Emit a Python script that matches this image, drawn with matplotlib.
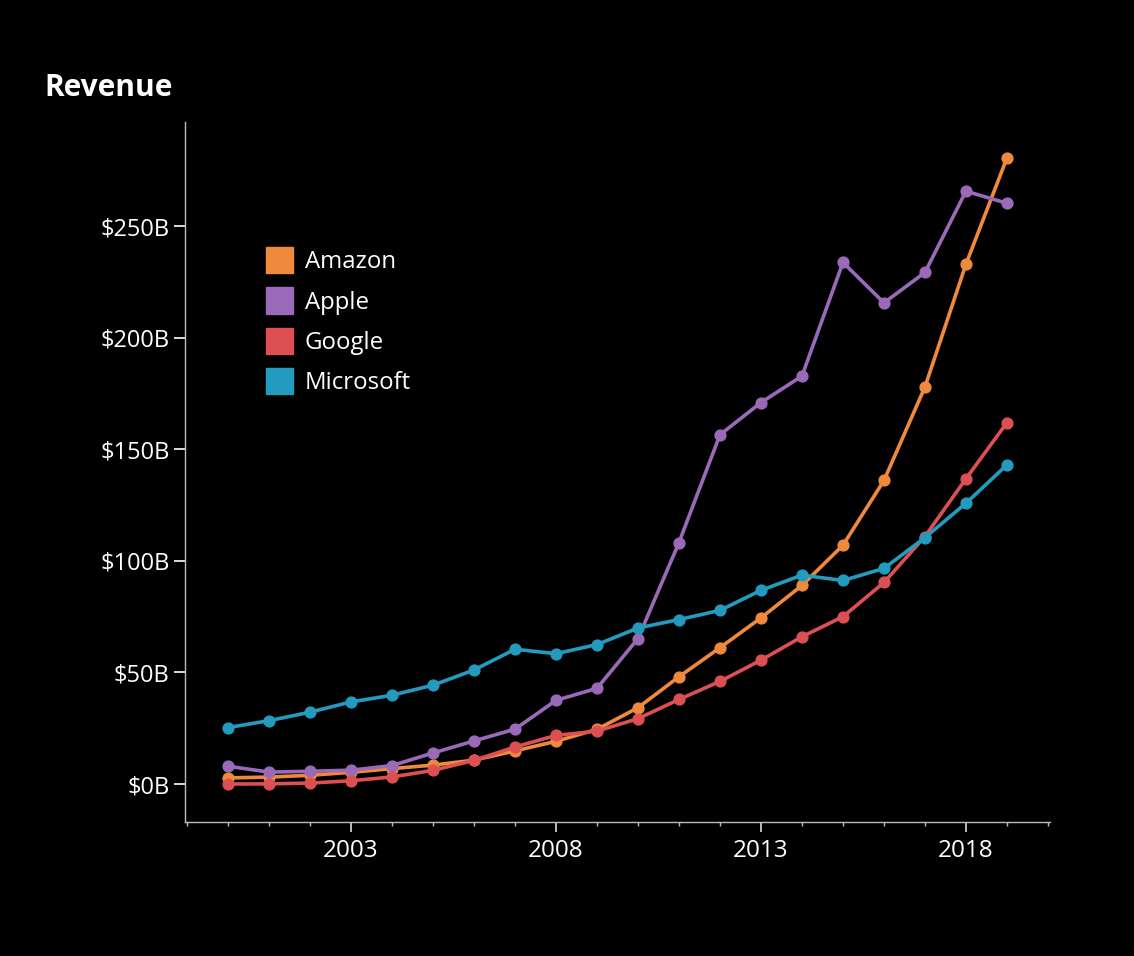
import matplotlib
matplotlib.use("Agg")
import matplotlib.pyplot as plt
from matplotlib.patches import Patch
from matplotlib.ticker import FixedLocator, FuncFormatter

# revenue in billions of dollars, one value per year
years = list(range(2000, 2020))
amazon = [2.76, 3.12, 3.93, 5.26, 6.92, 8.49, 10.71, 14.84, 19.17, 24.51,
          34.2, 48.08, 61.09, 74.45, 88.99, 107.0, 136.0, 177.9, 232.9, 280.5]
apple = [7.98, 5.36, 5.74, 6.21, 8.28, 13.93, 19.32, 24.6, 37.5, 42.9,
         65.2, 108.2, 156.5, 170.9, 182.8, 233.7, 215.6, 229.2, 265.6, 260.2]
google = [0.02, 0.09, 0.44, 1.47, 3.19, 6.14, 10.6, 16.6, 21.8, 23.7,
          29.3, 37.9, 46.0, 55.5, 66.0, 75.0, 90.3, 110.9, 136.8, 161.9]
microsoft = [25.3, 28.4, 32.2, 36.8, 39.8, 44.3, 51.1, 60.4, 58.4, 62.5,
             69.9, 73.7, 77.8, 86.8, 93.6, 91.2, 96.6, 110.4, 125.8, 143.0]

series_names = ["Amazon", "Apple", "Google", "Microsoft"]
series_values = [amazon, apple, google, microsoft]
colors = ["#ef8a3c", "#9a6ab9", "#dc5054", "#229bbe"]

y_ticks = [0, 50, 100, 150, 200, 250]
x_major = [2003, 2008, 2013, 2018]

plt.rcParams['font.family'] = ['Open Sans', 'DejaVu Sans']

fig = plt.figure(figsize=(11.34, 9.56), dpi=100, facecolor="black")
ax = fig.add_axes([185 / 1134, 1 - 822 / 956, 865 / 1134, 700 / 956])
ax.set_facecolor("black")

# later series drawn on top, like the original
for name, vals, c in zip(series_names, series_values, colors):
    ax.plot(years, vals, color=c, lw=2.6, marker="o", ms=7.8, mec=c,
            solid_capstyle="round")

ax.set_xlim(1998.95, 2020.05)
ax.set_ylim(-17, 296.6)

for s in ["top", "right"]:
    ax.spines[s].set_visible(False)
for s in ["left", "bottom"]:
    ax.spines[s].set_color("#bdbdbd")
    ax.spines[s].set_linewidth(1)

ax.yaxis.set_major_locator(FixedLocator(y_ticks))
ax.yaxis.set_major_formatter(FuncFormatter(lambda v, p: "$%dB" % v))
ax.tick_params(axis="y", colors="white", length=8, width=1.2, pad=3,
               labelsize=17, labelcolor="white")

ax.xaxis.set_major_locator(FixedLocator(x_major))
ax.xaxis.set_minor_locator(FixedLocator(list(range(1999, 2021))))
ax.xaxis.set_major_formatter(FuncFormatter(lambda v, p: "%d" % v))
ax.tick_params(axis="x", which="major", colors="#dddddd", length=7, width=1.2,
               pad=5, labelsize=17.5, labelcolor="white")
ax.tick_params(axis="x", which="minor", colors="#bdbdbd", length=3, width=1)

fig.text(44 / 1134, 1 - 88 / 956, "Revenue", color="white", fontsize=21.5,
         fontweight="bold", va="center", ha="left")

handles = [Patch(facecolor=c, edgecolor=c, label=n) for n, c in zip(series_names, colors)]
leg = fig.legend(handles=handles, loc="upper left",
                 bbox_to_anchor=(266 / 1134, 1 - 247 / 956),
                 frameon=False, borderpad=0, fontsize=17.3,
                 handlelength=1.12, handleheight=1.3, handletextpad=0.5,
                 labelspacing=0.55, borderaxespad=0)
for t in leg.get_texts():
    t.set_color("white")

fig.savefig("out.png", dpi=100, facecolor="black")
